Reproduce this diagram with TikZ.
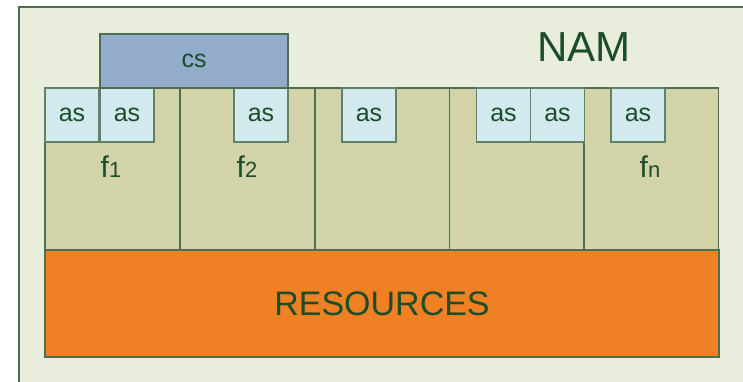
\documentclass[tikz,border=0pt]{standalone}
\usepackage{fontspec}
\setmainfont{Liberation Sans}
\definecolor{namfill}{RGB}{233,238,220}
\definecolor{funfill}{RGB}{211,211,170}
\definecolor{asfill}{RGB}{210,233,238}
\definecolor{csfill}{RGB}{148,172,204}
\definecolor{resfill}{RGB}{240,128,36}
\definecolor{edge}{RGB}{78,110,82}
\definecolor{asedge}{RGB}{96,130,104}
\definecolor{ink}{RGB}{28,76,42}
\tikzset{
  cell/.style={draw=edge, line width=1.3pt, inner sep=0pt, outer sep=0pt, anchor=north west},
  funbox/.style={cell, fill=funfill, minimum width=134.8pt, minimum height=162pt},
  asbox/.style={cell, draw=asedge, fill=asfill, minimum width=54pt, minimum height=54pt,
    text=ink, font=\fontsize{25}{25}\selectfont},
  csbox/.style={cell, fill=csfill, minimum width=188pt, minimum height=54pt,
    text=ink, font=\fontsize{25}{25}\selectfont},
  resbox/.style={cell, fill=resfill, minimum width=674pt, minimum height=107pt,
    text=ink, font=\fontsize{34}{34}\selectfont},
  flabel/.style={text=ink, inner sep=0pt, anchor=base, font=\fontsize{30}{30}\selectfont},
}
\newcommand{\fsub}[1]{f{\fontsize{22}{22}\selectfont #1}}
\begin{document}
\begin{tikzpicture}[x=1pt, y=-1pt]
\useasboundingbox (0,0) rectangle (743,382);
% outer NAM frame (continues past the right and bottom edges)
\begin{scope}
\clip (0,0) rectangle (743,382);
\node[cell, fill=namfill, minimum width=760pt, minimum height=400pt] (nam) at (19,7) {};
\end{scope}
\node[text=ink, inner sep=0pt, anchor=base, font=\fontsize{42}{42}\selectfont] (namlabel) at (584,62) {NAM};
% function columns
\node[funbox] (c1) at (45,88) {};
\node[funbox] (c2) at (180,88) {};
\node[funbox] (c3) at (315,88) {};
\node[funbox] (c4) at (449.5,88) {};
\node[funbox] (c5) at (584,88) {};
% resources
\node[resbox] (res) at (45,250) {RESOURCES};
% application slots
\node[asbox] (a11) at (45,88) {as};
\node[asbox] (a12) at (100,88) {as};
\node[asbox] (a21) at (234,88) {as};
\node[asbox] (a31) at (342,88) {as};
\node[asbox] (a41) at (476.5,88) {as};
\node[asbox] (a42) at (530.5,88) {as};
\node[asbox] (a51) at (611,88) {as};
% cs spanning across the first two columns
\node[csbox] (cs) at (100,34) {cs};
% column labels
\node[flabel] (f1) at (111,177) {\fsub{1}};
\node[flabel] (f2) at (247,177) {\fsub{2}};
\node[flabel] (fn) at (650,177) {\fsub{n}};
\end{tikzpicture}
\end{document}
